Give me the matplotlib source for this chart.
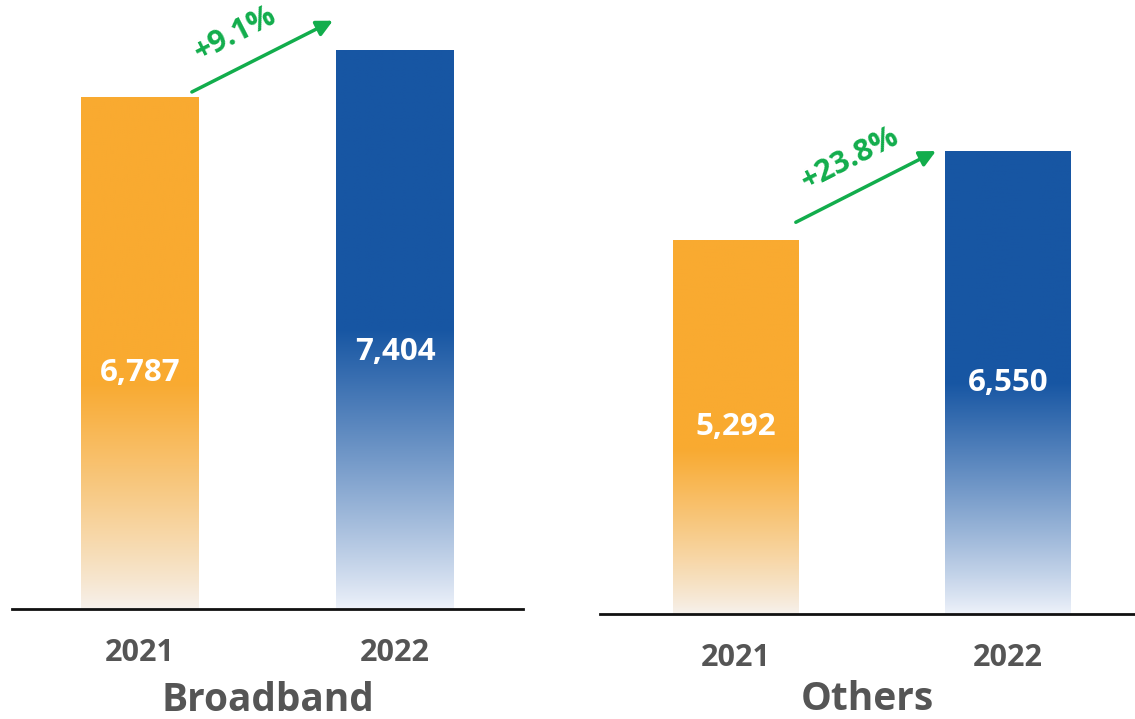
import numpy as np
import matplotlib
matplotlib.use('Agg')
import matplotlib.pyplot as plt
from matplotlib.colors import to_rgb

# dados
years = ['2021', '2022']
segments = ['Broadband', 'Others']
broadband = [6787, 7404]
others = [5292, 6550]

orange = '#F9AA31'
blue = '#1756A3'
green = '#12AD4C'
gray = '#555555'
bottom_cols = ['#F6F1EC', '#EEF2FA']

plt.rcParams['font.family'] = ['Open Sans', 'DejaVu Sans']

fig = plt.figure(figsize=(11.35, 7.19), dpi=100)
W, H = 1135, 719

# posicao dos paineis em pixels: x0, x1, baseline, ylim top, label frac
panels = [
    dict(x0=12, x1=523, base=609, ytop=8069, xl=(-0.502, 1.502), lab=0.46, lp=9,
         arr=((0.352, 0.849), (0.628, 0.966)), txt=(0.437, 0.944)),
    dict(x0=600, x1=1135, base=614, ytop=8688, xl=(-0.5, 1.467), lab=0.5, lp=5,
         arr=((0.366, 0.638), (0.628, 0.754)), txt=(0.468, 0.742)),
]


def gradient_img(top, bot, fade=0.47, n=256):
    t = np.linspace(0, 1, n)[:, None]  # 0 = base, 1 = topo
    a = np.clip(t / fade, 0, 1) ** 0.9
    top = np.array(to_rgb(top))
    bot = np.array(to_rgb(bot))
    img = bot + (top - bot) * a
    return img[:, None, :].repeat(2, axis=1)


for p, name, vals in zip(panels, segments, [broadband, others]):
    ax = fig.add_axes([p['x0'] / W, (H - p['base']) / H,
                       (p['x1'] - p['x0']) / W, p['base'] / H])
    x = np.arange(len(years))
    w = 0.46
    bars = ax.bar(x, vals, width=w, color='none', edgecolor='none')
    for b, v, top, bot, fade in zip(bars, vals, [orange, blue], bottom_cols, [0.44, 0.5]):
        im = ax.imshow(gradient_img(top, bot, fade), origin='lower', aspect='auto',
                       extent=[b.get_x(), b.get_x() + b.get_width(), 0, v],
                       interpolation='bilinear', zorder=2)
        im.set_clip_path(b)
        ax.text(b.get_x() + b.get_width() / 2, v * p['lab'], f'{v:,}',
                ha='center', va='center', color='white', fontsize=22.5,
                fontweight='bold', zorder=3)

    ax.set_xlim(*p['xl'])
    ax.set_ylim(0, p['ytop'])

    # seta de crescimento
    growth = (vals[1] / vals[0] - 1) * 100
    ax.annotate('', xy=p['arr'][1], xytext=p['arr'][0], xycoords='axes fraction',
                arrowprops=dict(arrowstyle='-|>', color=green, lw=2.5,
                                mutation_scale=24, shrinkA=0, shrinkB=0))
    ax.text(*p['txt'], f'+{growth:.1f}%', transform=ax.transAxes, rotation=27,
            rotation_mode='anchor', ha='center', va='center', color=green,
            fontsize=22, fontweight='bold')

    for s in ['top', 'right', 'left']:
        ax.spines[s].set_visible(False)
    ax.spines['bottom'].set_linewidth(2)
    ax.spines['bottom'].set_color('#111111')
    ax.set_yticks([])
    ax.set_xticks(x, years)
    ax.tick_params(axis='x', length=0, pad=21, labelsize=22, labelcolor=gray)
    for lbl in ax.get_xticklabels():
        lbl.set_fontweight('bold')
    ax.set_xlabel(name, fontsize=28, fontweight='bold', color=gray, labelpad=p['lp'])
    ax.patch.set_alpha(0)

fig.savefig('out.png', dpi=100)
